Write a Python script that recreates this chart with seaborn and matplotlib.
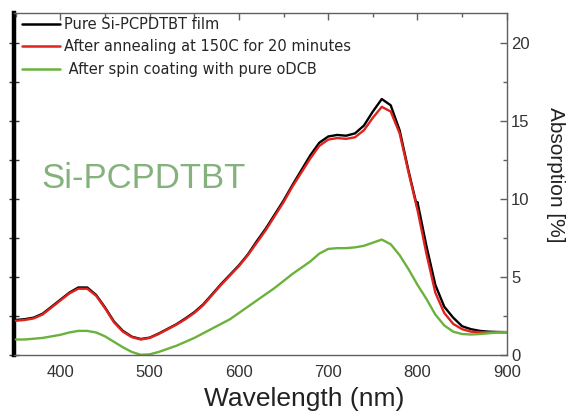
import numpy as np
import pandas as pd
import matplotlib
matplotlib.use("Agg")
import matplotlib.pyplot as plt
import seaborn as sns
from matplotlib.ticker import MultipleLocator

# ---------------- data ----------------
wl = [350, 360, 370, 380, 390, 400, 410, 420, 430, 440, 450, 460, 470, 480, 490,
      500, 510, 520, 530, 540, 550, 560, 570, 580, 590, 600, 610, 620, 630, 640,
      650, 660, 670, 680, 690, 700, 710, 720, 730, 740, 750, 760, 770, 780, 790,
      800, 810, 820, 830, 840, 850, 860, 870, 880, 890, 900]

red = [2.2, 2.25, 2.35, 2.6, 3.05, 3.5, 3.95, 4.25, 4.25, 3.8, 3.0, 2.1, 1.5, 1.15, 1.0,
       1.1, 1.35, 1.65, 1.95, 2.3, 2.7, 3.2, 3.85, 4.5, 5.1, 5.7, 6.4, 7.2, 8.0, 8.9,
       9.8, 10.8, 11.7, 12.6, 13.4, 13.8, 13.9, 13.85, 13.95, 14.4, 15.2, 15.9, 15.6, 14.2, 11.7,
       9.3, 6.5, 4.0, 2.7, 2.0, 1.66, 1.5, 1.47, 1.47, 1.47, 1.47]

# black curve has a detector-switch step at 800 nm (800 appears twice)
wl_black = [350, 360, 370, 380, 390, 400, 410, 420, 430, 440, 450, 460, 470, 480, 490,
            500, 510, 520, 530, 540, 550, 560, 570, 580, 590, 600, 610, 620, 630, 640,
            650, 660, 670, 680, 690, 700, 710, 720, 730, 740, 750, 760, 770, 780, 790,
            800, 800, 810, 820, 830, 840, 850, 860, 870, 880, 890, 900]
black = [2.25, 2.3, 2.4, 2.65, 3.1, 3.55, 4.0, 4.33, 4.33, 3.85, 3.05, 2.15, 1.55, 1.18, 1.03,
         1.12, 1.38, 1.68, 1.98, 2.35, 2.75, 3.25, 3.9, 4.55, 5.15, 5.75, 6.45, 7.3, 8.1, 9.0,
         9.9, 10.9, 11.85, 12.8, 13.6, 14.0, 14.1, 14.05, 14.2, 14.7, 15.6, 16.4, 16.0, 14.4, 11.8,
         9.4, 9.8, 7.0, 4.5, 3.1, 2.4, 1.85, 1.66, 1.55, 1.5, 1.48, 1.47]

green = [1.0, 1.0, 1.05, 1.1, 1.2, 1.3, 1.45, 1.55, 1.55, 1.45, 1.2, 0.85, 0.5, 0.2, 0.02,
         0.05, 0.2, 0.4, 0.6, 0.85, 1.1, 1.4, 1.7, 2.0, 2.3, 2.7, 3.1, 3.5, 3.9, 4.3,
         4.75, 5.2, 5.6, 6.0, 6.5, 6.8, 6.85, 6.85, 6.9, 7.0, 7.2, 7.4, 7.1, 6.4, 5.5,
         4.5, 3.6, 2.6, 1.9, 1.5, 1.35, 1.32, 1.35, 1.4, 1.45, 1.47]

labels = ["Pure Si-PCPDTBT film",
          "After annealing at 150C for 20 minutes",
          " After spin coating with pure oDCB"]
colors = ["#000000", "#e0231f", "#6ab23c"]

df = pd.concat([
    pd.DataFrame({"wl": wl_black, "abs": black, "series": labels[0]}),
    pd.DataFrame({"wl": wl, "abs": red, "series": labels[1]}),
    pd.DataFrame({"wl": wl, "abs": green, "series": labels[2]}),
], ignore_index=True)

# ---------------- style ----------------
sns.set_style("white")
plt.rcParams["font.family"] = ["Liberation Sans", "DejaVu Sans"]

fig = plt.figure(figsize=(5.7, 4.11), dpi=100)
ax = fig.add_axes([0.0246, 0.136, 0.889 - 0.0246, 0.968 - 0.136])

sns.lineplot(data=df, x="wl", y="abs", hue="series", palette=colors,
             estimator=None, sort=False, linewidth=1.7, ax=ax, legend=False)

ax.set_xlim(348, 900)
ax.set_ylim(0, 21.9)

gray = "#606060"
for s in ["top", "bottom", "right"]:
    ax.spines[s].set_color(gray)
    ax.spines[s].set_linewidth(1.0)
ax.spines["left"].set_visible(False)

ax.yaxis.tick_right()
ax.yaxis.set_label_position("right")
ax.xaxis.set_major_locator(MultipleLocator(100))
ax.xaxis.set_minor_locator(MultipleLocator(50))
ax.yaxis.set_major_locator(MultipleLocator(5))
ax.yaxis.set_minor_locator(MultipleLocator(2.5))
ax.tick_params(axis="both", which="major", direction="in", length=5, width=1,
               color=gray, labelsize=12, labelcolor="#333333")
ax.tick_params(axis="both", which="minor", direction="in", length=3, width=1,
               color=gray)
ax.tick_params(axis="x", which="major", pad=7)
ax.tick_params(axis="y", which="major", pad=3)
ax.tick_params(axis="x", which="both", top=True)
ax.tick_params(axis="y", which="both", left=False, right=True,
               labelleft=False, labelright=True)

# thick black left axis with crossing ticks
sec = ax.secondary_yaxis("left")
sec.spines["left"].set_linewidth(3.2)
sec.spines["left"].set_color("black")
sec.yaxis.set_major_locator(MultipleLocator(2.5))
sec.tick_params(axis="y", which="major", direction="inout", length=7, width=1,
                color="#333333", labelleft=False)
sec.tick_params(axis="y", which="minor", left=False)

ax.set_xlabel("Wavelength (nm)", fontsize=19, color="#222222")
ax.set_ylabel("Absorption [%]", fontsize=15, color="#222222", rotation=270,
              va="center")
ax.xaxis.set_label_coords(0.588, -0.092)
ax.yaxis.set_label_coords(1.098, 0.526)

ax.text(0.262, 0.515, "Si-PCPDTBT", transform=ax.transAxes, fontsize=25,
        color="#84b17c", ha="center", va="center")

handles = [plt.Line2D([], [], color=c, linewidth=1.8) for c in colors]
leg = ax.legend(handles, labels, loc="upper left", frameon=False,
                prop={"family": "DejaVu Sans", "size": 10.5},
                handlelength=2.6, handletextpad=0.3, labelspacing=0.52,
                borderaxespad=0.0, borderpad=0.25, bbox_to_anchor=(0.008, 1.0))

fig.savefig("out.png", dpi=100)
